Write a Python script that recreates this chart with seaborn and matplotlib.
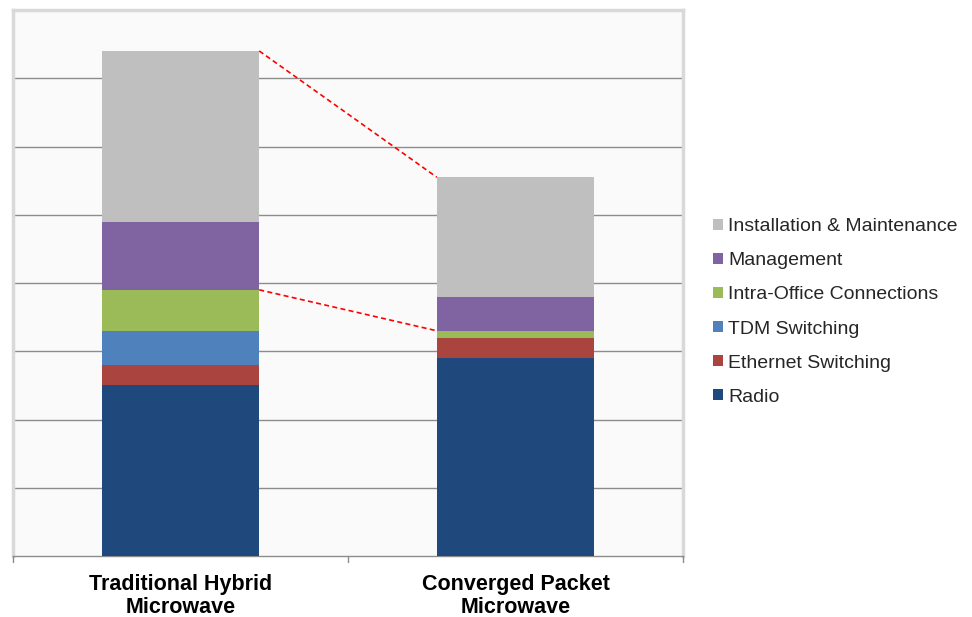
import numpy as np
import pandas as pd
import matplotlib
matplotlib.use("Agg")
import matplotlib.pyplot as plt
import seaborn as sns

categories = ["Traditional Hybrid\nMicrowave", "Converged Packet\nMicrowave"]
series_names = ["Radio", "Ethernet Switching", "TDM Switching",
                "Intra-Office Connections", "Management", "Installation & Maintenance"]
radio = [2.5, 2.9]
ethernet = [0.3, 0.3]
tdm = [0.5, 0.0]
intra_office = [0.6, 0.1]
management = [1.0, 0.5]
installation = [2.5, 1.75]
colors = ["#1F497D", "#A9443F", "#4F81BD", "#9BBB59", "#8064A2", "#BFBFBF"]

sns.set_theme(style="white")
plt.rcParams['font.family'] = ['Liberation Sans', 'DejaVu Sans']

values = [radio, ethernet, tdm, intra_office, management, installation]
cum = np.cumsum(np.array(values), axis=0)

fig = plt.figure(figsize=(9.72, 6.17), dpi=100)
ax = fig.add_axes([13/972, 1-556/617, 670/972, 546/617])
ax.set_facecolor("#FAFAFA")

bar_w = 0.47
for i in range(len(series_names)-1, -1, -1):
    df = pd.DataFrame({"cat": categories, "val": cum[i]})
    sns.barplot(data=df, x="cat", y="val", color=colors[i], width=bar_w,
                saturation=1, ax=ax, label=series_names[i], zorder=3,
                edgecolor="none", linewidth=0)

# connector lines
tot = cum[-1]
mid = cum[3]
for yy in (tot, mid):
    ax.plot([0 + bar_w/2, 1 - bar_w/2], [yy[0], yy[1]], color="#FF0000",
            linestyle=(0, (3, 2)), linewidth=1.2, zorder=4)

ax.set_xlim(-0.5, 1.5)
ax.set_ylim(0, 8)
ax.set_yticks(np.arange(1, 8))
ax.set_yticklabels([])
ax.yaxis.grid(True, color="#8C8C8C", linewidth=1.0, zorder=0)
ax.set_axisbelow(True)
ax.tick_params(axis="y", length=0)
ax.set_xlabel("")
ax.set_ylabel("")

ax.set_xticks([0, 1])
ax.set_xticklabels(categories, fontsize=15.5, fontweight="bold", color="black",
                   linespacing=1.15)
ax.tick_params(axis="x", length=0, pad=13)
# boundary ticks
for xb in (-0.5, 0.5, 1.5):
    ax.plot([xb, xb], [0, -0.09], color="#8C8C8C", linewidth=1.0,
            clip_on=False, zorder=5)

for s in ("top", "left", "right"):
    ax.spines[s].set_color("#D9D9D9")
    ax.spines[s].set_linewidth(2.5)
ax.spines["bottom"].set_color("#8C8C8C")
ax.spines["bottom"].set_linewidth(1.0)

handles, labels = ax.get_legend_handles_labels()
if ax.get_legend() is not None:
    ax.get_legend().remove()
leg = fig.legend(handles, labels, loc="center left",
                 bbox_to_anchor=(705/972, 1-312/617), frameon=False,
                 fontsize=14, handlelength=0.5, handleheight=0.5,
                 handletextpad=0.3, labelspacing=0.88, borderaxespad=0)

fig.savefig("out.png", dpi=100, facecolor="white")
